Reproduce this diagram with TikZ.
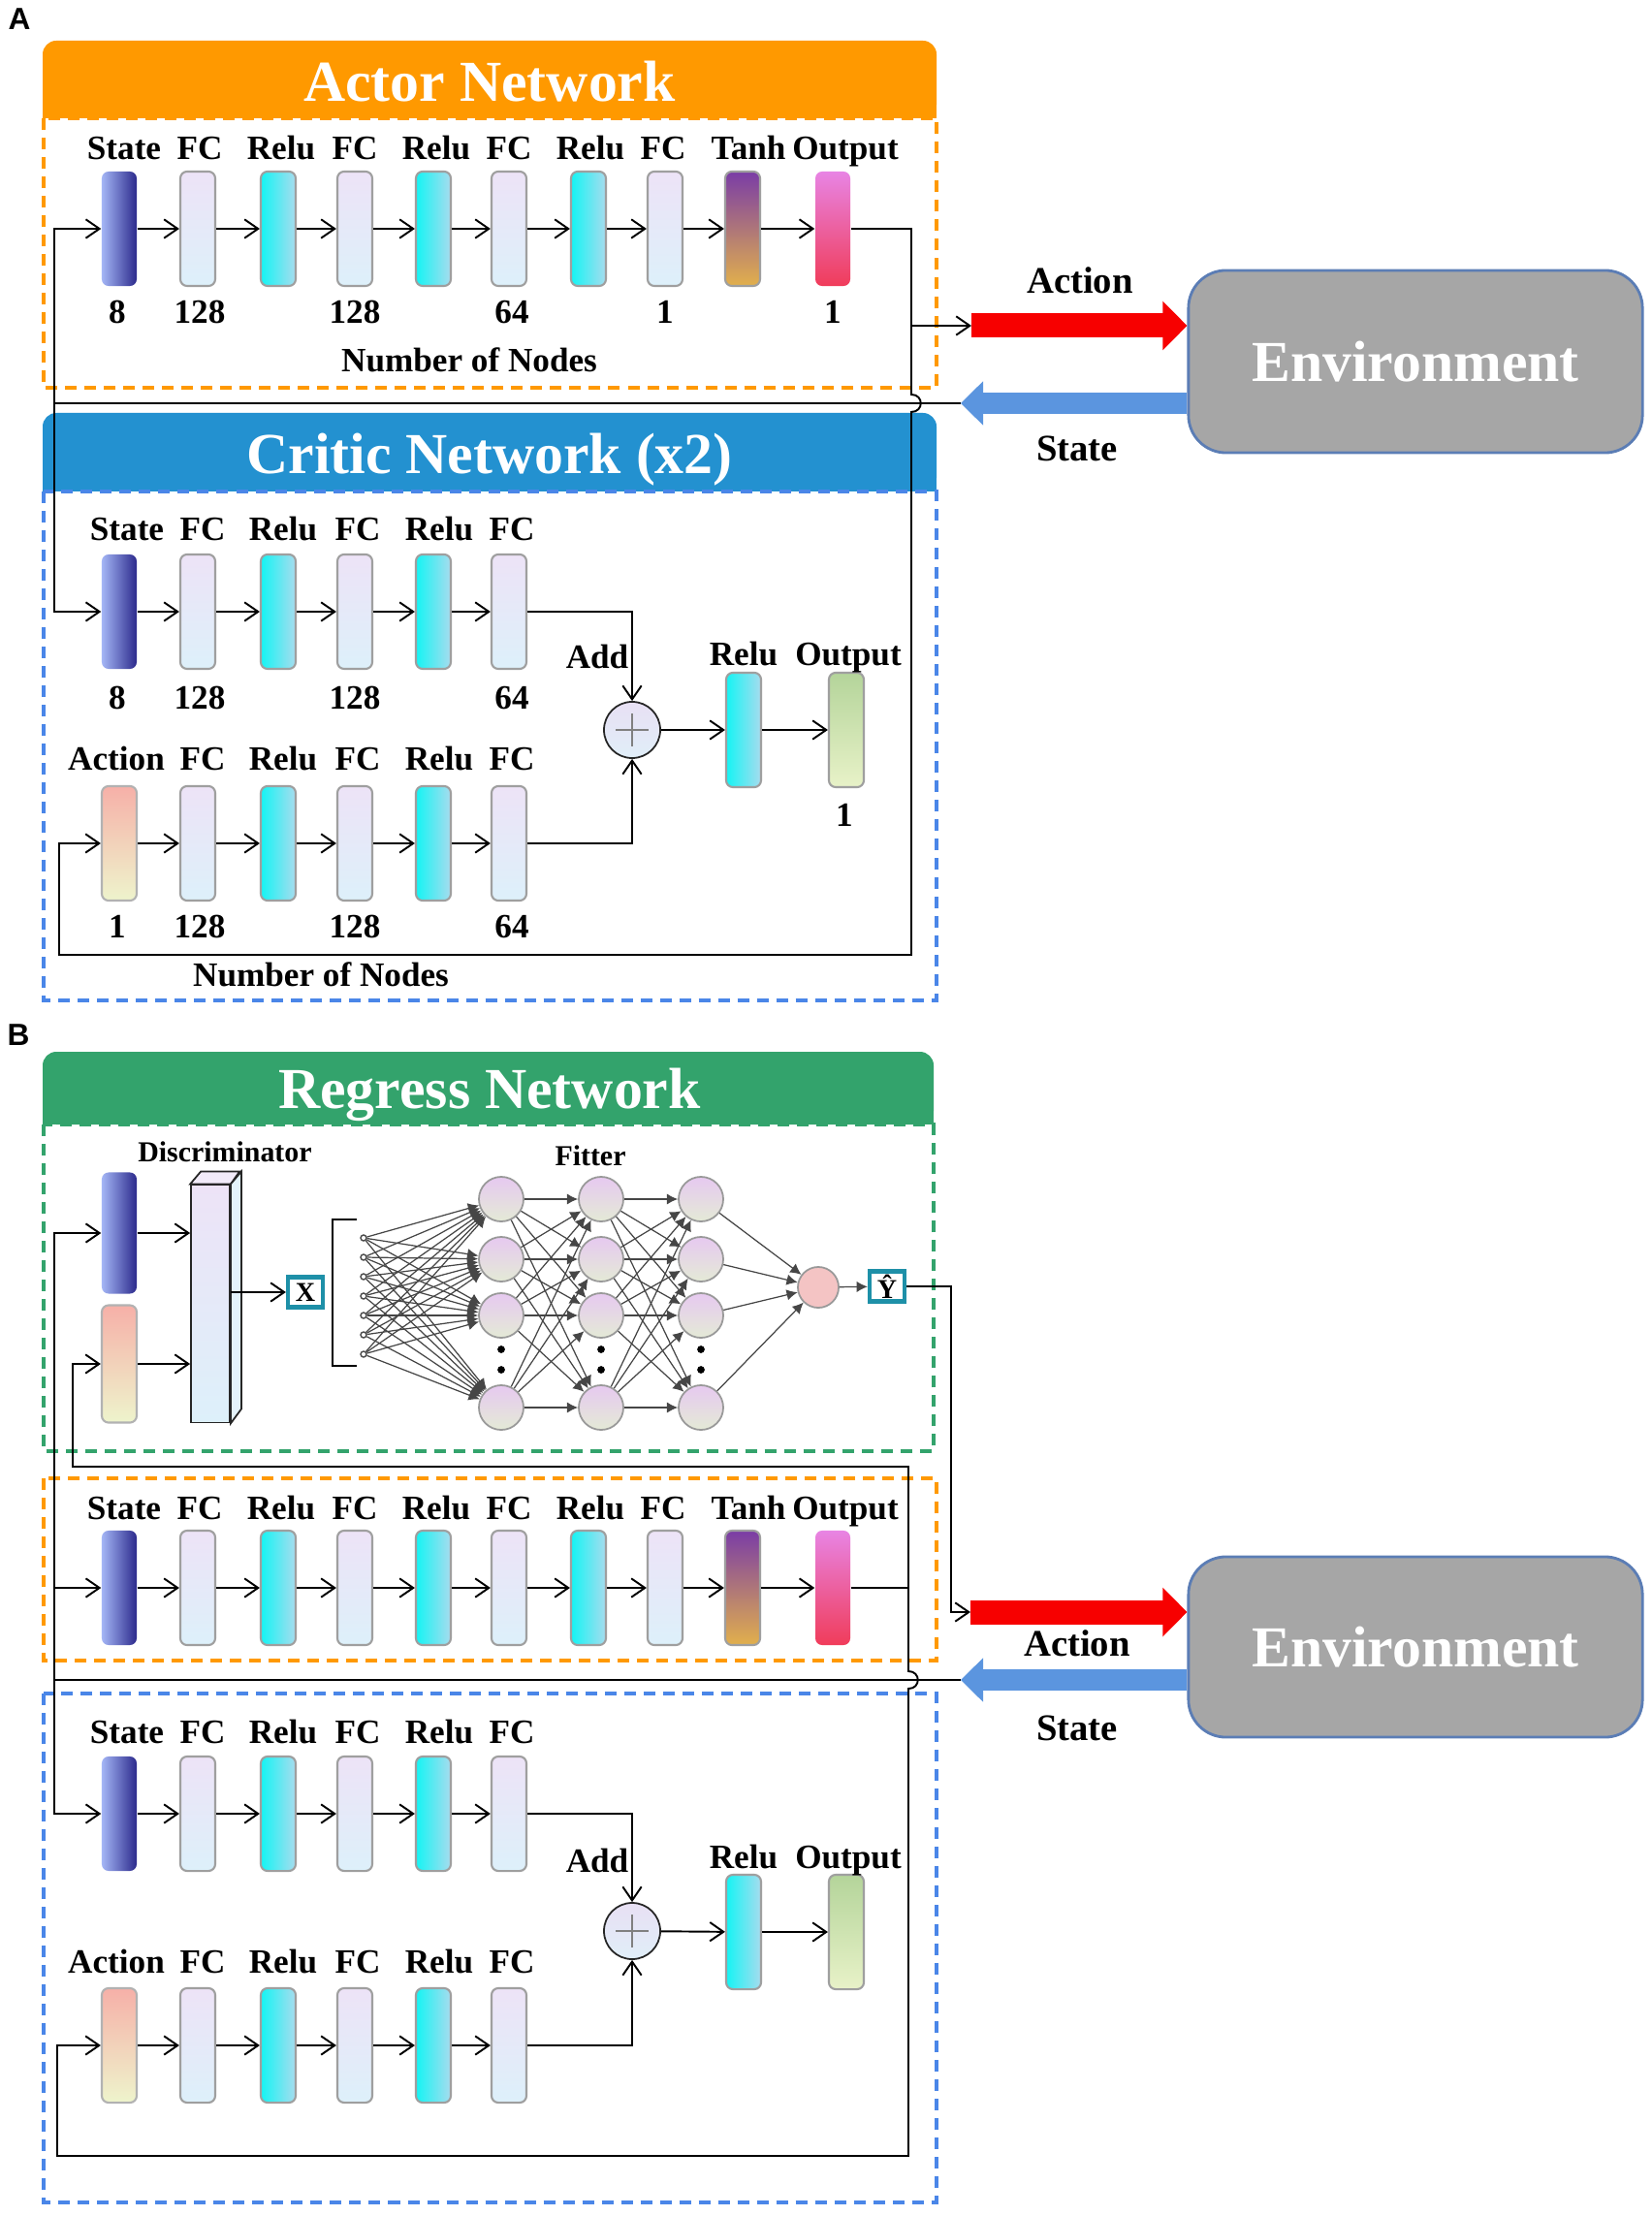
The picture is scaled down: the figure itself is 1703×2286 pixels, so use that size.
\documentclass[tikz,border=0pt]{standalone}
\usepackage{fontspec}
\setmainfont{Liberation Serif}
\newfontfamily\panelfont{Liberation Sans}
\usetikzlibrary{arrows.meta,calc}

\definecolor{actorc}{HTML}{FF9900}
\definecolor{criticc}{HTML}{2391D0}
\definecolor{criticdash}{HTML}{4A86E8}
\definecolor{regressc}{HTML}{33A36C}
\definecolor{envfill}{HTML}{A6A6A6}
\definecolor{envline}{HTML}{5B7DB5}
\definecolor{actred}{HTML}{F70000}
\definecolor{stblue}{HTML}{5B95DF}
\definecolor{tealbox}{HTML}{1E90A8}
\definecolor{stleft}{HTML}{A4B6F6}
\definecolor{stright}{HTML}{2C2A8C}
\definecolor{fctop}{HTML}{EDE3F7}
\definecolor{fcbot}{HTML}{DDF0FA}
\definecolor{reluleft}{HTML}{14F4F4}
\definecolor{reluright}{HTML}{A8DCEE}
\definecolor{tanhtop}{HTML}{7A3CA6}
\definecolor{tanhbot}{HTML}{E2B04C}
\definecolor{outtop}{HTML}{E884E4}
\definecolor{outbot}{HTML}{F03C5A}
\definecolor{acttop}{HTML}{F6B0A8}
\definecolor{actbot}{HTML}{EEF4CC}
\definecolor{qtop}{HTML}{B4D49A}
\definecolor{qbot}{HTML}{E8F2C8}
\definecolor{nrtop}{HTML}{E6C9F0}
\definecolor{nrbot}{HTML}{E4EAD6}
\definecolor{outnr}{HTML}{F4C4C4}
\definecolor{addtop}{HTML}{E8E0F4}
\definecolor{addbot}{HTML}{E0EEF8}

\begin{document}
\begin{tikzpicture}[x=0.01cm,y=-0.01cm,
  bar/.style={rectangle,rounded corners=2pt,minimum width=0.36cm,minimum height=1.18cm,inner sep=0pt},
  statebar/.style={bar,left color=stleft,right color=stright},
  fcbar/.style={bar,draw=gray!75,line width=0.6pt,top color=fctop,bottom color=fcbot},
  relubar/.style={bar,draw=gray!75,line width=0.6pt,left color=reluleft,right color=reluright},
  tanhbar/.style={bar,draw=gray!75,line width=0.6pt,top color=tanhtop,bottom color=tanhbot},
  outbar/.style={bar,top color=outtop,bottom color=outbot},
  actbar/.style={bar,draw=gray!60,line width=0.6pt,top color=acttop,bottom color=actbot},
  qbar/.style={bar,draw=gray!75,line width=0.6pt,top color=qtop,bottom color=qbot},
  lbl/.style={anchor=base,inner sep=0pt,font=\fontsize{10}{12}\selectfont\bfseries},
  arrlbl/.style={anchor=base,inner sep=0pt,font=\fontsize{11}{13}\selectfont\bfseries},
  smalllbl/.style={anchor=base,inner sep=0pt,font=\fontsize{8.5}{10}\selectfont\bfseries},
  ttl/.style={anchor=base,inner sep=0pt,text=white,font=\fontsize{17}{20}\selectfont\bfseries},
  panel/.style={anchor=base,inner sep=0pt,font=\panelfont\bfseries\fontsize{9}{10}\selectfont},
  envbox/.style={rectangle,rounded corners=11pt,draw=envline,line width=0.8pt,fill=envfill,
    minimum width=4.68cm,minimum height=1.88cm,text=white,font=\fontsize{17}{20}\selectfont\bfseries},
  addnode/.style={circle,draw=gray!30!black,line width=0.5pt,minimum size=0.58cm,inner sep=0pt,
    top color=addtop,bottom color=addbot,
    path picture={\draw[gray,line width=0.8pt] (path picture bounding box.center) +(-17,0) -- +(17,0) +(0,-17) -- +(0,17);}},
  neuron/.style={circle,draw=gray!80,line width=0.5pt,minimum size=0.46cm,inner sep=0pt,top color=nrtop,bottom color=nrbot},
  indot/.style={circle,draw=gray!60!black,fill=white,line width=0.4pt,minimum size=0.06cm,inner sep=0pt},
  iobox/.style={rectangle,draw=tealbox,line width=1.2pt,fill=white,minimum width=0.36cm,minimum height=0.31cm,
    inner sep=0pt,font=\fontsize{8}{9}\selectfont\bfseries},
  conn/.style={line width=0.55pt,-{Straight Barb[length=4pt,width=5.5pt]}},
  wire/.style={line width=0.55pt},
  nlink/.style={draw=gray!55!black,line width=0.35pt,-{Latex[length=3.2pt,width=3.2pt]}},
  dashbox/.style={line width=0.9pt,dash pattern=on 0.12cm off 0.08cm},
  actarrow/.style={draw=actred,line width=0.25cm,-{Triangle[length=0.25cm,width=0.49cm]}},
  starrow/.style={draw=stblue,line width=0.22cm,-{Triangle[length=0.23cm,width=0.44cm]}}]

  \useasboundingbox (0,0) rectangle (1703,2286);
  \fill[white] (0,0) rectangle (1703,2286);

  %%%%%%%%%%%%%%%% Part A %%%%%%%%%%%%%%%%
  \node[panel] (pA) at (20,31) {A};

  % headers and dashed frames
  \fill[actorc,rounded corners=4pt] (44,42) rectangle (966,122);
  \fill[actorc] (44,100) rectangle (966,122);
  \draw[actorc,dashbox] (45,122) rectangle (966,400);
  \node[ttl] (actorttl) at (505,105) {Actor Network};

  \fill[criticc,rounded corners=4pt] (44,426) rectangle (966,507);
  \fill[criticc] (44,480) rectangle (966,507);
  \draw[criticdash,dashbox] (45,507) rectangle (966,1032);
  \node[ttl] (criticttl) at (505,489) {Critic Network (x2)};

  % actor network
  \foreach \i/\x/\lx/\sty/\txt in {1/123/128/statebar/State,2/204/206/fcbar/FC,3/287/290/relubar/Relu,
      4/366/366/fcbar/FC,5/447/450/relubar/Relu,6/525/525/fcbar/FC,7/607/609/relubar/Relu,
      8/686/684/fcbar/FC,9/766/772/tanhbar/Tanh,10/859/872/outbar/Output}{
    \node[\sty] (a\i) at (\x,236) {};
    \node[lbl] (al\i) at (\lx,165) {\txt};
  }
  \foreach \i/\x/\n in {1/121/8,2/206/128,3/366/128,4/528/64,5/686/1,6/859/1}
    \node[lbl] (an\i) at (\x,334) {\n};
  \node[lbl] (anodes) at (484,384) {Number of Nodes};
  \foreach \i [count=\j from 2] in {1,...,9}
    \draw[conn] (a\i) -- (a\j);

  % critic network
  \foreach \i/\x/\lx/\sty/\txt in {1/123/131/statebar/State,2/204/209/fcbar/FC,3/287/292/relubar/Relu,
      4/366/369/fcbar/FC,5/447/453/relubar/Relu,6/525/528/fcbar/FC}{
    \node[\sty] (ct\i) at (\x,631) {};
    \node[lbl] (ctl\i) at (\lx,558) {\txt};
  }
  \foreach \i/\x/\lx/\sty/\txt in {1/123/120/actbar/Action,2/204/209/fcbar/FC,3/287/292/relubar/Relu,
      4/366/369/fcbar/FC,5/447/453/relubar/Relu,6/525/528/fcbar/FC}{
    \node[\sty] (cb\i) at (\x,870) {};
    \node[lbl] (cbl\i) at (\lx,795) {\txt};
  }
  \foreach \i/\x/\n in {1/121/8,2/206/128,3/366/128,4/528/64}
    \node[lbl] (ctn\i) at (\x,732) {\n};
  \foreach \i/\x/\n in {1/121/1,2/206/128,3/366/128,4/528/64}
    \node[lbl] (cbn\i) at (\x,967) {\n};
  \foreach \i [count=\j from 2] in {1,...,5}{
    \draw[conn] (ct\i) -- (ct\j);
    \draw[conn] (cb\i) -- (cb\j);
  }
  \node[addnode] (addA) at (652,753) {};
  \node[relubar] (crA) at (767,753) {};
  \node[qbar] (coA) at (873,753) {};
  \node[lbl] (addlA) at (616,690) {Add};
  \node[lbl] (crlA) at (767,687) {Relu};
  \node[lbl] (colA) at (875,687) {Output};
  \node[lbl] (conA) at (871,853) {1};
  \node[lbl] (cnodes) at (331,1017) {Number of Nodes};
  \draw[conn] (ct6.east) -| (addA.north);
  \draw[conn] (cb6.east) -| (addA.south);
  \draw[conn] (addA) -- (crA);
  \draw[conn] (crA) -- (coA);

  % environment
  \node[envbox] (envA) at (1460,373) {Environment};
  \coordinate (actA) at (1002,336);
  \coordinate (stA) at (991,416);
  \coordinate (jA) at (940,336);
  \coordinate (hopA) at (940,416);
  \coordinate (brA) at (56,416);
  \coordinate (loopA) at (61,985);
  \draw[actarrow] (actA) -- (actA -| envA.west);
  \draw[starrow] (stA -| envA.west) -- (stA);
  \node[arrlbl] (actlA) at (1114,303) {Action};
  \node[arrlbl] (stlA) at (1111,476) {State};

  % loops
  \draw[wire] (a10.east) -| (jA);
  \draw[conn] (jA) -- (actA);
  \draw[conn] (jA) -- ($(hopA)+(0,-9)$) .. controls +(13,0) and +(13,0) .. ($(hopA)+(0,9)$)
    |- (loopA) |- (cb1.west);
  \draw[wire] (stA) -- (brA);
  \draw[conn] (brA) |- (a1.west);
  \draw[conn] (brA) |- (ct1.west);

  %%%%%%%%%%%%%%%% Part B %%%%%%%%%%%%%%%%
  \node[panel] (pB) at (19,1078) {B};

  \fill[regressc,rounded corners=4pt] (44,1085) rectangle (963,1160);
  \fill[regressc] (44,1135) rectangle (963,1160);
  \draw[regressc,dashbox] (45,1160) rectangle (963,1497);
  \node[ttl] (regttl) at (505,1143) {Regress Network};
  \draw[actorc,dashbox] (45,1525) rectangle (966,1713);
  \draw[criticdash,dashbox] (45,1747) rectangle (966,2272);

  % discriminator
  \node[smalllbl] (disclbl) at (232,1198) {Discriminator};
  \node[smalllbl] (fitlbl) at (609,1202) {Fitter};
  \node[statebar,minimum height=1.25cm] (g1) at (123,1272) {};
  \node[actbar,minimum height=1.21cm] (g2) at (123,1407) {};
  \node[rectangle,draw=gray!30!black,line width=0.5pt,minimum width=0.40cm,minimum height=2.45cm,
    inner sep=0pt,top color=fctop,bottom color=fcbot] (disc) at (217,1345) {};
  \filldraw[fill=fctop!70!white,draw=gray!30!black,line width=0.5pt]
    (disc.north west) -- ++(11,-13) -- ++(40,0) -- (disc.north east) -- cycle;
  \filldraw[fill=fcbot!80!white,draw=gray!30!black,line width=0.5pt]
    (disc.north east) -- ++(11,-13) -- ++(0,245) -- (disc.south east) -- cycle;
  \draw[conn] (g1.east) -- (g1.east -| disc.west);
  \draw[conn] (g2.east) -- (g2.east -| disc.west);
  \node[iobox] (xbox) at (315,1333) {X};
  \draw[conn] (disc.east |- xbox.west) -- (xbox.west);

  % fitter
  \draw[line width=0.7pt] (368,1258) -- (343,1258) -- (343,1409) -- (368,1409);
  \foreach \k in {1,...,7}
    \node[indot] (i\k) at (375,{1257+20*\k}) {};
  \foreach \l/\x in {1/517,2/620,3/723}
    \foreach \m/\y in {1/1237,2/1299,3/1357,4/1452}
      \node[neuron] (h\l\m) at (\x,\y) {};
  \node[neuron,top color=outnr,bottom color=outnr,minimum size=0.42cm] (outn) at (844,1328) {};
  \node[iobox] (yhat) at (915,1327) {Ŷ};
  \foreach \k in {1,...,7}
    \foreach \m in {1,...,4}
      \draw[nlink] (i\k) -- (h1\m);
  \foreach \l [count=\n from 2] in {1,2}
    \foreach \m in {1,...,4}
      \foreach \p in {1,...,4}
        \draw[nlink] (h\l\m) -- (h\n\p);
  \foreach \m in {1,...,4}
    \draw[nlink] (h3\m) -- (outn);
  \draw[nlink] (outn) -- (yhat);
  \foreach \x in {517,620,723}
    \foreach \y in {1392,1413}
      \fill (\x,\y) circle (1.1pt);

  % actor network
  \foreach \i/\x/\lx/\sty/\txt in {1/123/128/statebar/State,2/204/206/fcbar/FC,3/287/290/relubar/Relu,
      4/366/366/fcbar/FC,5/447/450/relubar/Relu,6/525/525/fcbar/FC,7/607/609/relubar/Relu,
      8/686/684/fcbar/FC,9/766/772/tanhbar/Tanh,10/859/872/outbar/Output}{
    \node[\sty] (b\i) at (\x,1638) {};
    \node[lbl] (bl\i) at (\lx,1567) {\txt};
  }
  \foreach \i [count=\j from 2] in {1,...,9}
    \draw[conn] (b\i) -- (b\j);

  % critic network
  \foreach \i/\x/\lx/\sty/\txt in {1/123/131/statebar/State,2/204/209/fcbar/FC,3/287/292/relubar/Relu,
      4/366/369/fcbar/FC,5/447/453/relubar/Relu,6/525/528/fcbar/FC}{
    \node[\sty] (cu\i) at (\x,1871) {};
    \node[lbl] (cul\i) at (\lx,1798) {\txt};
  }
  \foreach \i/\x/\lx/\sty/\txt in {1/123/120/actbar/Action,2/204/209/fcbar/FC,3/287/292/relubar/Relu,
      4/366/369/fcbar/FC,5/447/453/relubar/Relu,6/525/528/fcbar/FC}{
    \node[\sty] (cd\i) at (\x,2110) {};
    \node[lbl] (cdl\i) at (\lx,2035) {\txt};
  }
  \foreach \i [count=\j from 2] in {1,...,5}{
    \draw[conn] (cu\i) -- (cu\j);
    \draw[conn] (cd\i) -- (cd\j);
  }
  \node[addnode] (addB) at (652,1992) {};
  \node[relubar] (crB) at (767,1993) {};
  \node[qbar] (coB) at (873,1993) {};
  \node[lbl] (addlB) at (616,1931) {Add};
  \node[lbl] (crlB) at (767,1927) {Relu};
  \node[lbl] (colB) at (875,1927) {Output};
  \draw[conn] (cu6.east) -| (addB.north);
  \draw[conn] (cd6.east) -| (addB.south);
  \draw[conn] (addB) -- (crB);
  \draw[conn] (crB) -- (coB);

  % environment
  \node[envbox,minimum height=1.86cm] (envB) at (1460,1699) {Environment};
  \coordinate (actB) at (1001,1663);
  \coordinate (stB) at (991,1733);
  \coordinate (yB) at (981,1663);
  \coordinate (jB) at (937,1638);
  \coordinate (hopB) at (937,1733);
  \coordinate (brB) at (56,1733);
  \coordinate (upB) at (75,1513);
  \coordinate (loopB) at (59,2224);
  \draw[actarrow] (actB) -- (actB -| envB.west);
  \draw[starrow] (stB -| envB.west) -- (stB);
  \node[arrlbl] (actlB) at (1111,1708) {Action};
  \node[arrlbl] (stlB) at (1111,1795) {State};

  % loops
  \draw[conn] (yhat.east) -| (yB) -- (actB);
  \draw[wire] (b10.east) -- (jB);
  \draw[conn] (jB) |- (upB) |- (g2.west);
  \draw[conn] (jB) -- ($(hopB)+(0,-9)$) .. controls +(13,0) and +(13,0) .. ($(hopB)+(0,9)$)
    |- (loopB) |- (cd1.west);
  \draw[wire] (stB) -- (brB);
  \draw[conn] (brB) |- (g1.west);
  \draw[conn] (brB) |- (b1.west);
  \draw[conn] (brB) |- (cu1.west);

\end{tikzpicture}
\end{document}
